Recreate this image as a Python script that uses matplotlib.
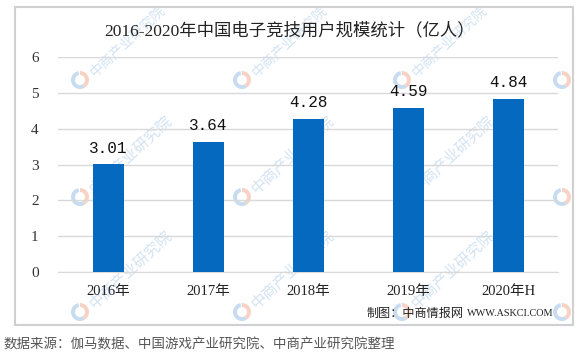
import matplotlib
matplotlib.use("Agg")
import matplotlib.pyplot as plt
from matplotlib.patches import Rectangle, Wedge

categories = ["2016年", "2017年", "2018年", "2019年", "2020年H"]
values = [3.01, 3.64, 4.28, 4.59, 4.84]
yticks = [0, 1, 2, 3, 4, 5, 6]
title = "2016-2020年中国电子竞技用户规模统计（亿人）"
credit_cn = "制图：中商情报网"
credit_en = "WWW.ASKCI.COM"
source = "数据来源：伽马数据、中国游戏产业研究院、中商产业研究院整理"
watermark = "中商产业研究院"

fam = ["Liberation Serif", "Noto Sans CJK SC"]
plt.rcParams["font.family"] = fam

W, H = 580, 359
fig = plt.figure(figsize=(W / 100, H / 100), dpi=100)
fig.patch.set_facecolor("white")

def fx(px):
    return px / W

def fy(py):
    return 1 - py / H

# watermarks (tiled, under the chart)
for lx in [80, 242, 402, 562]:
    for ly in [80, 197, 312]:
        fig.patches.append(Wedge((lx, H - ly), 9, 100, 300, width=4,
                                 transform=None, facecolor="#C8DCF0",
                                 edgecolor="none", zorder=0.2))
        fig.patches.append(Wedge((lx, H - ly), 9, -60, 90, width=4,
                                 transform=None, facecolor="#F6D3C4",
                                 edgecolor="none", zorder=0.2))
        if lx < 500:
            fs = 10 if ly < 100 else 11
            fig.text(fx(lx + 12), fy(ly - 6), watermark, rotation=43,
                     rotation_mode="anchor", ha="left", va="center",
                     fontsize=fs, color="#D3E3F3", zorder=0.2,
                     family=["Noto Sans CJK SC"])

# outer frame
fig.patches.append(Rectangle((fx(15), fy(325)), (573 - 15) / W, (325 - 7) / H,
                             transform=fig.transFigure, fill=False,
                             edgecolor="#D0D0D0", linewidth=1.5, zorder=0.5))

ax = fig.add_axes([fx(58), fy(272), 500 / W, (272 - 57) / H])
ax.set_zorder(1)
ax.patch.set_alpha(0)
x = list(range(len(categories)))
ax.bar(x, values, width=0.31, color="#0569BF", zorder=3)
ax.set_xlim(-0.5, len(categories) - 0.5)
ax.set_ylim(0, 6)
ax.set_yticks(yticks)
ax.set_yticklabels([str(t) for t in yticks], fontsize=11, color="#333333")
ax.set_xticks(x)
ax.set_xticklabels(categories, fontsize=10.5, color="#222222")
ax.tick_params(axis="both", length=0)
ax.tick_params(axis="y", pad=14)
ax.tick_params(axis="x", pad=9)
ax.grid(axis="y", color="#D9D9D9", linewidth=1, zorder=0)
for s in ["top", "right", "left"]:
    ax.spines[s].set_visible(False)
ax.spines["bottom"].set_color("#D9D9D9")

for xi, v in zip(x, values):
    ax.annotate(f"{v:.2f}", (xi, v), xytext=(0, 6), textcoords="offset points",
                ha="center", va="bottom", fontsize=11.5, color="#111111",
                family=["Liberation Mono", "Noto Sans CJK SC"])

fig.text(fx(290), fy(31), title, ha="center", va="center", fontsize=12.5,
         color="#222222", zorder=2)
fig.text(fx(464), fy(313), credit_cn, ha="right", va="center", fontsize=8.7,
         color="#222222", zorder=2, family=["Noto Sans CJK SC"])
fig.text(fx(553), fy(313), credit_en, ha="right", va="center", fontsize=7.4,
         color="#222222", zorder=2, family=["Liberation Serif"])
fig.text(fx(4), fy(345), source, ha="left", va="center", fontsize=9.7,
         color="#555555", zorder=2, family=["Noto Sans CJK SC"])

fig.savefig("out.png", dpi=100, facecolor="white")
